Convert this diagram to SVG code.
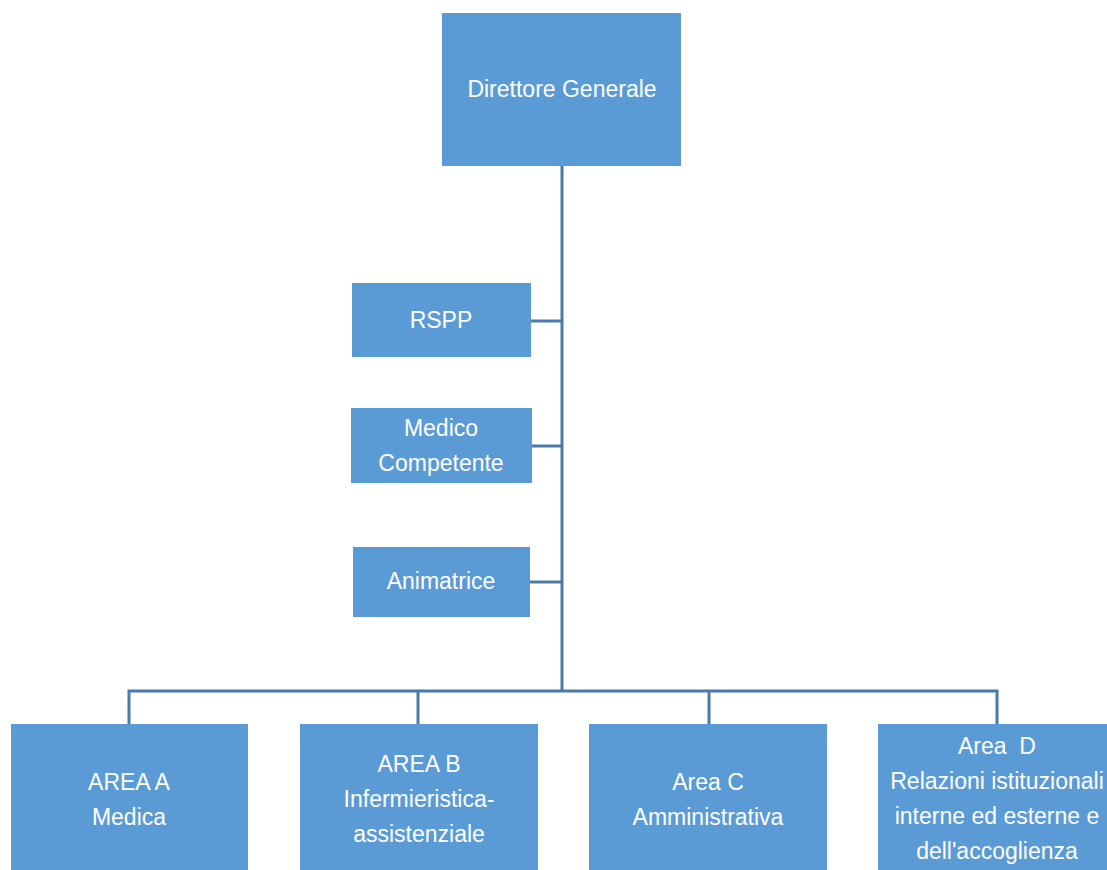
<svg xmlns="http://www.w3.org/2000/svg" width="1107" height="870" viewBox="0 0 1107 870">
<style>
.box{fill:#5b9bd5}
.t{fill:#ffffff;font-family:"Liberation Sans",Arial,sans-serif;font-size:23px;text-anchor:middle}
.ln{stroke:#4a7bab;stroke-width:3;fill:none}
</style>
<rect width="1107" height="870" fill="#ffffff"/>
<g id="connectors">
<path class="ln" d="M562,166 V691"/>
<path class="ln" d="M531,321 H562 M532,446 H562 M530,582 H562"/>
<path class="ln" d="M129,724 V691 H997 V724 M418,691 V724 M709,691 V724"/>
</g>
<g id="direttore"><rect class="box" x="442" y="13" width="239" height="153"/><text class="t" x="562" y="97">Direttore Generale</text></g>
<g id="rspp"><rect class="box" x="352" y="283" width="179" height="74"/><text class="t" x="441" y="328">RSPP</text></g>
<g id="medico"><rect class="box" x="351" y="408" width="181" height="75"/><text class="t" x="441" y="436">Medico</text><text class="t" x="441" y="471">Competente</text></g>
<g id="animatrice"><rect class="box" x="353" y="547" width="177" height="70"/><text class="t" x="441" y="589">Animatrice</text></g>
<g id="areaA"><rect class="box" x="11" y="724" width="237" height="146"/><text class="t" x="129" y="790">AREA A</text><text class="t" x="129" y="825">Medica</text></g>
<g id="areaB"><rect class="box" x="300" y="724" width="238" height="146"/><text class="t" x="419" y="772">AREA B</text><text class="t" x="419" y="807">Infermieristica-</text><text class="t" x="419" y="842">assistenziale</text></g>
<g id="areaC"><rect class="box" x="589" y="724" width="238" height="146"/><text class="t" x="708" y="790">Area C</text><text class="t" x="708" y="825">Amministrativa</text></g>
<g id="areaD"><rect class="box" x="878" y="724" width="238" height="146"/><text class="t" x="997" y="754" xml:space="preserve">Area  D</text><text class="t" x="997" y="789">Relazioni istituzionali</text><text class="t" x="997" y="824">interne ed esterne e</text><text class="t" x="997" y="859">dell'accoglienza</text></g>
</svg>
